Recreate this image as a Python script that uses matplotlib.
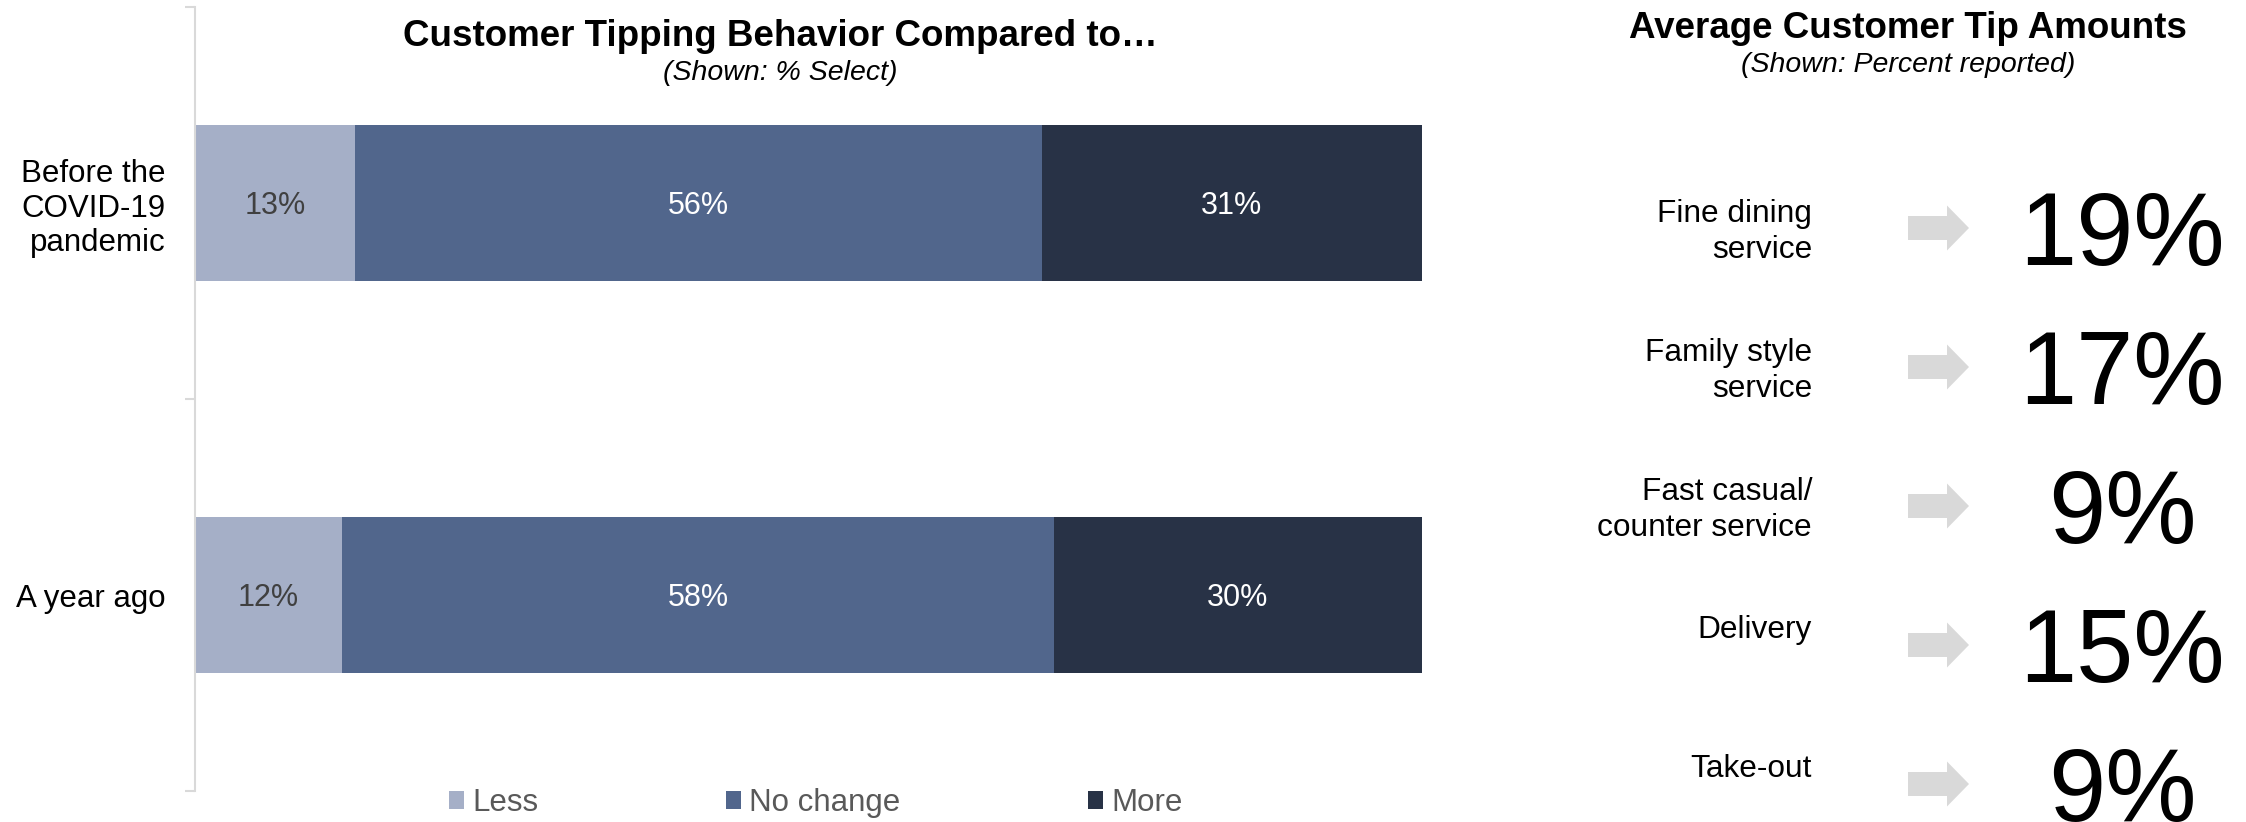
import matplotlib.pyplot as plt
from matplotlib.patches import Patch

plt.rcParams['font.family'] = ['Liberation Sans', 'DejaVu Sans']

# Left chart data
categories = ['Before the\nCOVID-19\npandemic', 'A year ago']
series_names = ['Less', 'No change', 'More']
less_vals = [13, 12]
no_change_vals = [56, 58]
more_vals = [31, 30]

# Right panel data
tip_labels = ['Fine dining\nservice', 'Family style\nservice', 'Fast casual/\ncounter service',
              'Delivery', 'Take-out']
tip_values = [19, 17, 9, 15, 9]

colors = ['#a5afc7', '#51668c', '#283246']
label_colors = ['#404040', 'white', 'white']

W, H = 2246, 822
fig = plt.figure(figsize=(W / 100, H / 100), dpi=100)

# Stacked bar axes, placed in pixel terms
ax = fig.add_axes([195 / W, 31 / H, 1227 / W, 784 / H])
y_pos = list(range(len(categories)))
left = [0] * len(categories)
handles = []
for name, vals, col, lcol in zip(series_names, [less_vals, no_change_vals, more_vals],
                                 colors, label_colors):
    bars = ax.barh(y_pos, vals, left=left, height=0.4, color=col, edgecolor='none')
    for b, v in zip(bars, vals):
        ax.text(b.get_x() + b.get_width() / 2, b.get_y() + b.get_height() / 2, f'{v}%',
                ha='center', va='center_baseline', fontsize=22, color=lcol)
    left = [l + v for l, v in zip(left, vals)]
    handles.append(Patch(facecolor=col, edgecolor='none', label=name))

ax.set_xlim(0, 100)
ax.set_ylim(len(categories) - 0.5, -0.5)
ax.set_yticks(y_pos)
ax.set_yticklabels(categories, fontsize=22.5, color='black', ha='right')
ax.tick_params(axis='y', which='major', length=0, pad=21)
ax.set_yticks([-0.5, 0.5, 1.5], minor=True)
ax.tick_params(axis='y', which='minor', length=7.5, width=1.5, color='#d9d9d9')
ax.tick_params(axis='x', bottom=False, labelbottom=False)
for s in ['top', 'right', 'bottom']:
    ax.spines[s].set_visible(False)
ax.spines['left'].set_color('#d9d9d9')
ax.spines['left'].set_linewidth(1.5)

fig.text(780 / W, 1 - 46 / H, 'Customer Tipping Behavior Compared to\u2026', ha='center',
         va='baseline', fontsize=26.5, fontweight='bold')
fig.text(780 / W, 1 - 80 / H, '(Shown: % Select)', ha='center', va='baseline',
         fontsize=20.5, style='italic')

leg = fig.legend(handles=handles, loc='center', bbox_to_anchor=(816 / W, 1 - 803 / H),
                 ncol=3, frameon=False, fontsize=22.5, handlelength=0.48, handleheight=0.48,
                 handletextpad=0.26, columnspacing=6.0, labelcolor='#595959')

# Right panel, drawn on an invisible axes in pixel coordinates
ax2 = fig.add_axes([0, 0, 1, 1])
ax2.set_xlim(0, W)
ax2.set_ylim(H, 0)
ax2.axis('off')

fig.text(1908 / W, 1 - 38 / H, 'Average Customer Tip Amounts', ha='center', va='baseline',
         fontsize=26.5, fontweight='bold')
fig.text(1908 / W, 1 - 72 / H, '(Shown: Percent reported)', ha='center', va='baseline',
         fontsize=20.5, style='italic')

row_top = 228
row_step = 139
line_px = 37
for i, (lab, val) in enumerate(zip(tip_labels, tip_values)):
    yc = row_top + i * row_step
    # first line sits just above the row centre; baseline alignment uses the last line
    n_lines = lab.count('\n') + 1
    ax2.text(1812, yc - 7 + (n_lines - 1) * line_px, lab, ha='right', va='baseline',
             fontsize=22.8, linespacing=1.28)
    ax2.arrow(1908, yc, 61, 0, width=24, head_width=45, head_length=22,
              length_includes_head=True, color='#d9d9d9', lw=0)
    ax2.text(2122, yc + 37, f'{val}%', ha='center', va='baseline', fontsize=74)

fig.savefig('out.png', dpi=100)
